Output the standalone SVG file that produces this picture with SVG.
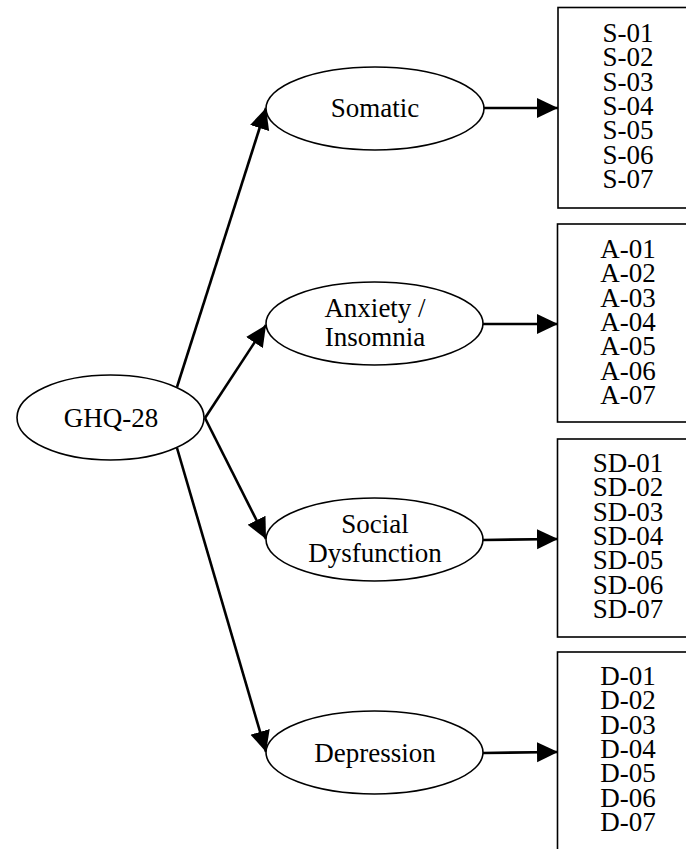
<svg xmlns="http://www.w3.org/2000/svg" width="686" height="849" viewBox="0 0 686 849">
<style>
  .ell { fill: #fff; stroke: #000; stroke-width: 1.6; }
  .box { fill: #fff; stroke: #000; stroke-width: 1.6; }
  .lbl { font-family: "Liberation Serif", "Times New Roman", serif; font-size: 27px; fill: #000; text-anchor: middle; }
  .edge { stroke: #000; stroke-width: 2.6; fill: none; marker-end: url(#ah); }
</style>
<defs>
  <marker id="ah" markerUnits="userSpaceOnUse" markerWidth="22" markerHeight="22" viewBox="0 0 22 22" refX="21" refY="11" orient="auto">
    <path d="M0,1 L21,11 L0,21 Z" fill="#000"/>
  </marker>
</defs>
<rect width="686" height="849" fill="#fff"/>
<g id="connectors">
  <line class="edge" x1="177" y1="387" x2="266" y2="108"/>
  <line class="edge" x1="205" y1="418" x2="266" y2="325"/>
  <line class="edge" x1="205" y1="418" x2="266" y2="539"/>
  <line class="edge" x1="177" y1="448" x2="266" y2="752"/>
  <line class="edge" x1="484" y1="108" x2="558" y2="108"/>
  <line class="edge" x1="483" y1="324" x2="558" y2="324"/>
  <line class="edge" x1="483" y1="540" x2="558" y2="539"/>
  <line class="edge" x1="483" y1="753" x2="558" y2="752"/>
</g>
<g id="ghq28">
  <ellipse class="ell" cx="110.5" cy="417.5" rx="93.5" ry="42.5"/>
  <text class="lbl" x="111" y="427">GHQ-28</text>
</g>
<g id="somatic">
  <ellipse class="ell" cx="375" cy="108.5" rx="109" ry="41.5"/>
  <text class="lbl" x="375" y="117">Somatic</text>
</g>
<g id="anxiety">
  <ellipse class="ell" cx="374.5" cy="323.5" rx="108.5" ry="41.5"/>
  <text class="lbl" x="375" y="317">Anxiety /</text>
  <text class="lbl" x="375" y="346">Insomnia</text>
</g>
<g id="social">
  <ellipse class="ell" cx="374.5" cy="539.5" rx="108.5" ry="41.5"/>
  <text class="lbl" x="375" y="533">Social</text>
  <text class="lbl" x="375" y="562">Dysfunction</text>
</g>
<g id="depression">
  <ellipse class="ell" cx="374.5" cy="752.5" rx="108.5" ry="41.5"/>
  <text class="lbl" x="375" y="762">Depression</text>
</g>
<g id="box-s">
  <rect class="box" x="558" y="7.5" width="140" height="200.5"/>
  <text class="lbl" x="628" y="42">S-01</text>
  <text class="lbl" x="628" y="66.3">S-02</text>
  <text class="lbl" x="628" y="90.6">S-03</text>
  <text class="lbl" x="628" y="114.9">S-04</text>
  <text class="lbl" x="628" y="139.2">S-05</text>
  <text class="lbl" x="628" y="163.5">S-06</text>
  <text class="lbl" x="628" y="187.8">S-07</text>
</g>
<g id="box-a">
  <rect class="box" x="557.5" y="224" width="140" height="198"/>
  <text class="lbl" x="628" y="258">A-01</text>
  <text class="lbl" x="628" y="282.3">A-02</text>
  <text class="lbl" x="628" y="306.6">A-03</text>
  <text class="lbl" x="628" y="330.9">A-04</text>
  <text class="lbl" x="628" y="355.2">A-05</text>
  <text class="lbl" x="628" y="379.5">A-06</text>
  <text class="lbl" x="628" y="403.8">A-07</text>
</g>
<g id="box-sd">
  <rect class="box" x="557.5" y="439" width="140" height="198"/>
  <text class="lbl" x="628" y="472">SD-01</text>
  <text class="lbl" x="628" y="496.3">SD-02</text>
  <text class="lbl" x="628" y="520.6">SD-03</text>
  <text class="lbl" x="628" y="544.9">SD-04</text>
  <text class="lbl" x="628" y="569.2">SD-05</text>
  <text class="lbl" x="628" y="593.5">SD-06</text>
  <text class="lbl" x="628" y="617.8">SD-07</text>
</g>
<g id="box-d">
  <rect class="box" x="557.5" y="652" width="140" height="198"/>
  <text class="lbl" x="628" y="685">D-01</text>
  <text class="lbl" x="628" y="709.3">D-02</text>
  <text class="lbl" x="628" y="733.6">D-03</text>
  <text class="lbl" x="628" y="757.9">D-04</text>
  <text class="lbl" x="628" y="782.2">D-05</text>
  <text class="lbl" x="628" y="806.5">D-06</text>
  <text class="lbl" x="628" y="830.8">D-07</text>
</g>
</svg>
